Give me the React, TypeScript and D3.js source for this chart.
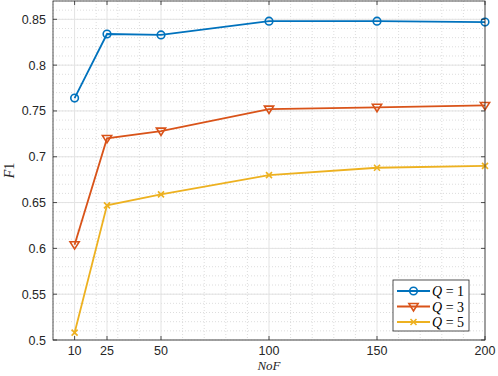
import React from "react";
import * as d3 from "d3";

const nof = [10, 25, 50, 100, 150, 200];
const q1 = [0.764, 0.834, 0.833, 0.848, 0.848, 0.847];
const q3 = [0.604, 0.72, 0.728, 0.752, 0.754, 0.756];
const q5 = [0.508, 0.647, 0.659, 0.68, 0.688, 0.69];
const xTicks = [10, 25, 50, 100, 150, 200];
const yTicks = [0.5, 0.55, 0.6, 0.65, 0.7, 0.75, 0.8, 0.85];
const seriesNames = ["1", "3", "5"];
const colors = ["#0072BD", "#D95319", "#EDB120"];

const W = 498, H = 376;
const L = 53, R = 485, T = 1, B = 340;

export default function App() {
  const x = d3.scaleLinear().domain([0, 200]).range([L, R]);
  const y = d3.scaleLinear().domain([0.5, 0.87]).range([B, T]);
  const line = d3.line<[number, number]>().x(d => x(d[0])).y(d => y(d[1]));
  const series = [q1, q3, q5];
  const minorX = d3.range(0, 201, 10);
  const minorY = d3.range(0.5, 0.8701, 0.01);
  const axisColor = "#262626";
  const tickFont = "Liberation Sans, Arial, sans-serif";

  const marker = (i: number, cx: number, cy: number, key: string) => {
    const c = colors[i];
    if (i === 0) return <circle key={key} cx={cx} cy={cy} r={3.8} fill="none" stroke={c} strokeWidth={1.6} />;
    if (i === 1) {
      const s = 4.6;
      return <path key={key} d={`M${cx - s},${cy - s * 0.65}L${cx + s},${cy - s * 0.65}L${cx},${cy + s * 0.95}Z`} fill="none" stroke={c} strokeWidth={1.6} />;
    }
    const s = 3;
    return <path key={key} d={`M${cx - s},${cy - s}L${cx + s},${cy + s}M${cx - s},${cy + s}L${cx + s},${cy - s}`} stroke={c} strokeWidth={1.6} />;
  };

  return (
    <svg width={W} height={H} style={{ position: "absolute", left: 0, top: 0, background: "#fff" }}>
      <rect x={L} y={T} width={R - L} height={B - T} fill="#fff" />
      {minorX.filter(v => !xTicks.includes(v)).map(v => (
        <line key={"mx" + v} x1={x(v)} x2={x(v)} y1={T} y2={B} stroke="#cfcfcf" strokeWidth={0.7} strokeDasharray="1,2" />
      ))}
      {minorY.map((v, i) => (
        <line key={"my" + i} x1={L} x2={R} y1={y(v)} y2={y(v)} stroke="#cfcfcf" strokeWidth={0.7} strokeDasharray="1,2" />
      ))}
      {xTicks.map(v => (
        <line key={"gx" + v} x1={x(v)} x2={x(v)} y1={T} y2={B} stroke="#e3e3e3" strokeWidth={1} />
      ))}
      {yTicks.map(v => (
        <line key={"gy" + v} x1={L} x2={R} y1={y(v)} y2={y(v)} stroke="#e3e3e3" strokeWidth={1} />
      ))}
      {series.map((s, i) => (
        <g key={"s" + i}>
          <path d={line(nof.map((n, j) => [n, s[j]] as [number, number])) || ""} fill="none" stroke={colors[i]} strokeWidth={1.8} />
          {nof.map((n, j) => marker(i, x(n), y(s[j]), `m${i}-${j}`))}
        </g>
      ))}
      <rect x={L} y={T} width={R - L} height={B - T} fill="none" stroke={axisColor} strokeWidth={0.8} />
      {xTicks.map(v => (
        <g key={"tx" + v}>
          <line x1={x(v)} x2={x(v)} y1={B} y2={B - 4} stroke={axisColor} strokeWidth={0.8} />
          <line x1={x(v)} x2={x(v)} y1={T} y2={T + 4} stroke={axisColor} strokeWidth={0.8} />
          <text x={x(v)} y={B + 15} textAnchor="middle" fontSize={12.5} fontFamily={tickFont} fill={axisColor}>{v}</text>
        </g>
      ))}
      {yTicks.map(v => (
        <g key={"ty" + v}>
          <line x1={L} x2={L + 4} y1={y(v)} y2={y(v)} stroke={axisColor} strokeWidth={0.8} />
          <line x1={R} x2={R - 4} y1={y(v)} y2={y(v)} stroke={axisColor} strokeWidth={0.8} />
          <text x={L - 7} y={y(v) + 4.5} textAnchor="end" fontSize={12.5} fontFamily={tickFont} fill={axisColor}>{String(v)}</text>
        </g>
      ))}
      <text x={(L + R) / 2} y={370} textAnchor="middle" fontSize={13} fontStyle="italic" fontFamily="Liberation Serif, serif" fill={axisColor}>NoF</text>
      <text transform={`translate(14,${(T + B) / 2}) rotate(-90)`} textAnchor="middle" fontSize={14} fontFamily="Liberation Serif, serif" fill={axisColor}>
        <tspan fontStyle="italic">F</tspan>1
      </text>
      <g>
        <rect x={393} y={280} width={76} height={51} fill="#fff" stroke={axisColor} strokeWidth={0.8} />
        {seriesNames.map((nm, i) => {
          const ly = 291 + i * 15.5;
          return (
            <g key={"lg" + i}>
              <line x1={397} x2={430} y1={ly} y2={ly} stroke={colors[i]} strokeWidth={1.8} />
              {marker(i, 413.5, ly, "lm" + i)}
              <text x={432} y={ly + 5} fontSize={14} fontFamily="Liberation Serif, serif" fill="#000">
                <tspan fontStyle="italic">Q</tspan> = {nm}
              </text>
            </g>
          );
        })}
      </g>
    </svg>
  );
}
